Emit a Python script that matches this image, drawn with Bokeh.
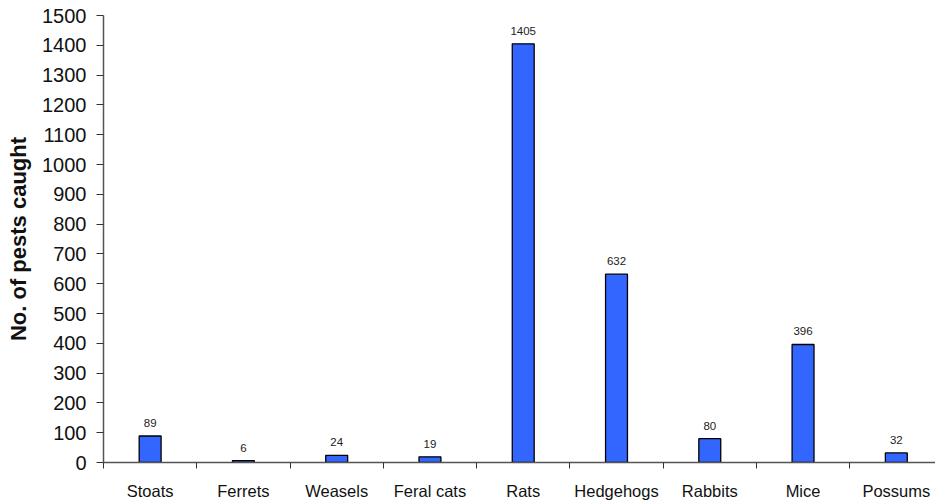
from bokeh.plotting import figure
from bokeh.models import ColumnDataSource, Range1d, FixedTicker, LabelSet
from bokeh.core.properties import value
from bokeh.embed import file_html
from bokeh.resources import INLINE

categories = ["Stoats", "Ferrets", "Weasels", "Feral cats", "Rats",
              "Hedgehogs", "Rabbits", "Mice", "Possums"]
counts = [89, 6, 24, 19, 1405, 632, 80, 396, 32]
y_ticks = list(range(0, 1501, 100))

centers = [i + 0.5 for i in range(len(categories))]
bounds = list(range(len(categories) + 1))

src = ColumnDataSource(dict(x=centers, top=counts, label=[str(c) for c in counts]))

FONT = "Liberation Sans"

p = figure(width=935, height=502, output_backend="svg", toolbar_location=None,
           x_range=Range1d(0, 8.92), y_range=Range1d(0, 1500),
           min_border_left=103, min_border_right=0, min_border_top=15,
           min_border_bottom=40)

p.vbar(x="x", top="top", width=0.235, source=src, fill_color="#3366FF",
       line_color="black", line_width=1.3)

labels = LabelSet(x="x", y="top", text="label", source=src, text_align="center",
                  text_baseline="bottom", y_offset=9, text_font_size="11.5px",
                  text_color="#222222", text_font=value(FONT))
p.add_layout(labels)

p.grid.grid_line_color = None
p.outline_line_color = None
p.background_fill_color = "white"

# x axis: labels at centers, tick marks at boundaries (as minor ticks)
p.xaxis.ticker = FixedTicker(ticks=centers, minor_ticks=bounds)
p.xaxis.major_label_overrides = {c: n for c, n in zip(centers, categories)}
p.xaxis.major_tick_out = 0
p.xaxis.major_tick_in = 0
p.xaxis.minor_tick_out = 6
p.xaxis.minor_tick_in = 0
p.xaxis.minor_tick_line_color = "#333333"
p.xaxis.axis_line_color = "#555555"
p.xaxis.axis_line_width = 1.5
p.xaxis.major_label_standoff = 13
p.xaxis.major_label_text_font_size = "16.5px"
p.xaxis.major_label_text_font = FONT
p.xaxis.major_label_text_color = "#111111"

# y axis
p.yaxis.ticker = FixedTicker(ticks=y_ticks)
p.yaxis.minor_tick_line_color = None
p.yaxis.major_tick_out = 7
p.yaxis.major_tick_in = 0
p.yaxis.major_tick_line_color = "#333333"
p.yaxis.axis_line_color = "#555555"
p.yaxis.axis_line_width = 1.5
p.yaxis.major_label_standoff = 10
p.yaxis.major_label_text_font_size = "20px"
p.yaxis.major_label_text_font = FONT
p.yaxis.major_label_text_color = "#111111"
p.yaxis.axis_label = "No. of pests caught"
p.yaxis.axis_label_text_font_size = "22px"
p.yaxis.axis_label_text_font_style = "bold"
p.yaxis.axis_label_text_font = FONT
p.yaxis.axis_label_text_color = "#111111"
p.yaxis.axis_label_standoff = 8

open("out.html", "w").write(file_html(p, INLINE))
